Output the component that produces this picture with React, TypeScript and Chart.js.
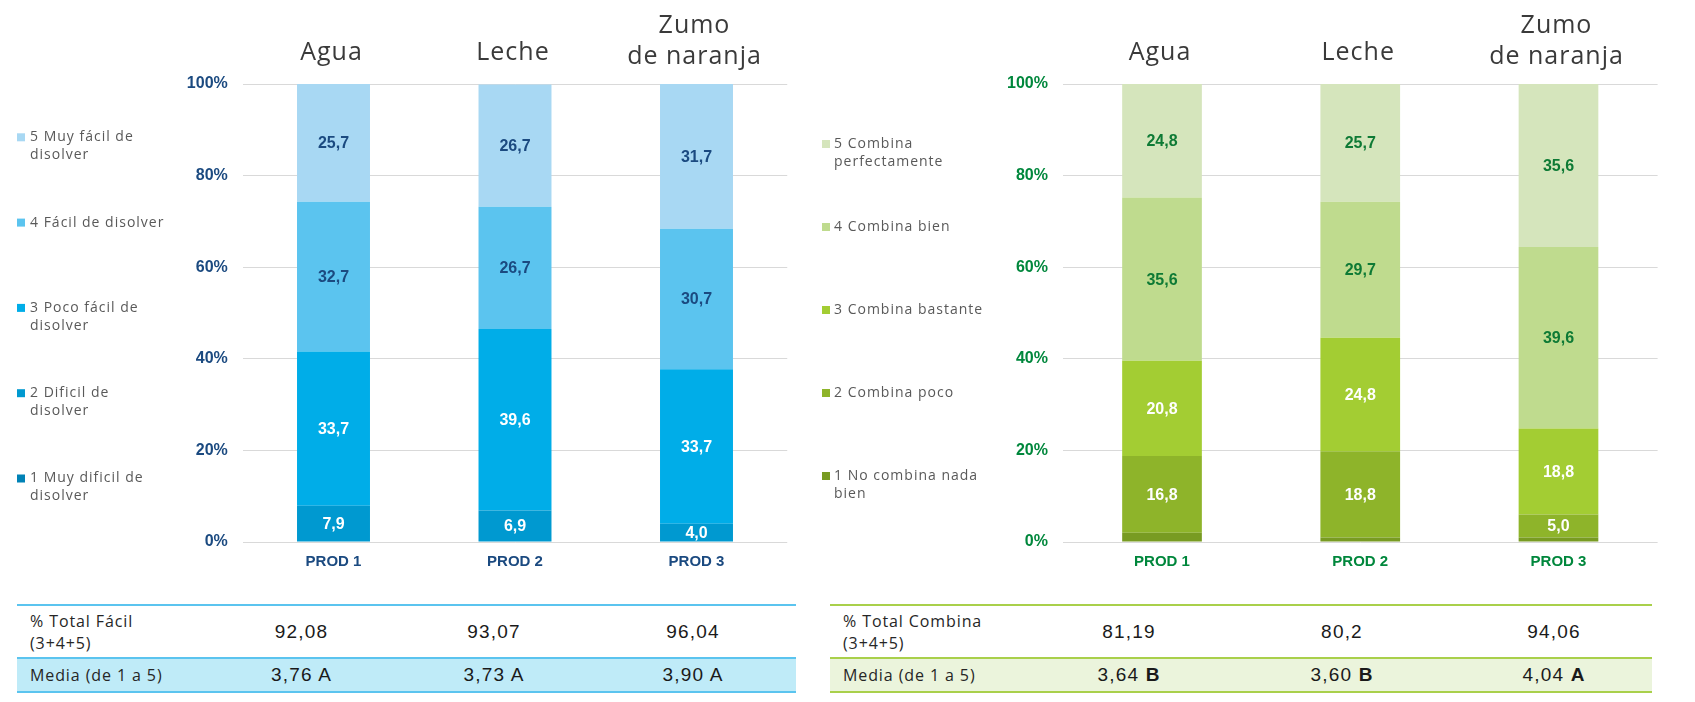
import React, { useEffect, useRef } from 'react';
import { Chart, registerables } from 'chart.js';

Chart.register(...registerables);

// ---------- DATA ----------
const products = ['PROD 1', 'PROD 2', 'PROD 3'];
const drinkTitles = [['Agua'], ['Leche'], ['Zumo', 'de naranja']];

// Disolución (left chart) – values in %
const disolverNames = ['1 Muy dificil de disolver', '2 Dificil de disolver', '3 Poco fácil de disolver', '4 Fácil de disolver', '5 Muy fácil de disolver'];
const disolverLegend = [['1 Muy dificil de', 'disolver'], ['2 Dificil de', 'disolver'], ['3 Poco fácil de', 'disolver'], ['4 Fácil de disolver'], ['5 Muy fácil de', 'disolver']];
const disolver1 = [0, 0, 0];
const disolver2 = [7.9, 6.9, 4.0];
const disolver3 = [33.7, 39.6, 33.7];
const disolver4 = [32.7, 26.7, 30.7];
const disolver5 = [25.7, 26.7, 31.7];

// Combinación (right chart) – values in %
const combinaNames = ['1 No combina nada bien', '2 Combina poco', '3 Combina bastante', '4 Combina bien', '5 Combina perfectamente'];
const combinaLegend = [['1 No combina nada', 'bien'], ['2 Combina poco'], ['3 Combina bastante'], ['4 Combina bien'], ['5 Combina', 'perfectamente']];
const combina1 = [2.0, 1.0, 1.0];
const combina2 = [16.8, 18.8, 5.0];
const combina3 = [20.8, 24.8, 18.8];
const combina4 = [35.6, 29.7, 39.6];
const combina5 = [24.8, 25.7, 35.6];

// Tables
const totalFacil = ['92,08', '93,07', '96,04'];
const mediaFacil = ['3,76', '3,73', '3,90'];
const mediaFacilGroup = ['A', 'A', 'A'];
const totalCombina = ['81,19', '80,2', '94,06'];
const mediaCombina = ['3,64', '3,60', '4,04'];
const mediaCombinaGroup = ['B', 'B', 'A'];

// ---------- STYLE ----------
const blueColors = ['#0082B6', '#0099D0', '#00ADE8', '#5BC4EF', '#A8D8F3'];
const blueLabelColors = ['#ffffff', '#ffffff', '#ffffff', '#1B4A80', '#1B4A80'];
const greenColors = ['#789B22', '#8EB42A', '#A3CD33', '#BFDB8E', '#D5E5BC'];
const greenLabelColors = ['#ffffff', '#ffffff', '#ffffff', '#0E7A35', '#0E7A35'];

const fmt = (v: number) => v.toFixed(1).replace('.', ',');

const titlesPlugin = {
  id: 'drinkTitles',
  afterDraw(chart: any, _a: any, opts: any) {
    const ctx = chart.ctx;
    const xs = chart.scales.x;
    ctx.save();
    ctx.font = '25px "Open Sans"';
    (ctx as any).letterSpacing = '1px';
    ctx.fillStyle = '#3A3A3A';
    ctx.textAlign = 'center';
    ctx.textBaseline = 'alphabetic';
    (opts.titles || []).forEach((lines: string[], i: number) => {
      const cx = xs.getPixelForValue(i) - 2;
      if (lines.length === 1) ctx.fillText(lines[0], cx, 60);
      else lines.forEach((ln, j) => ctx.fillText(ln, cx, 33 + 31 * j));
    });
    ctx.restore();
  },
};

const sideLegendPlugin = {
  id: 'sideLegend',
  afterDraw(chart: any, _a: any, opts: any) {
    const ctx = chart.ctx;
    ctx.save();
    ctx.font = '14px "Open Sans"';
    (ctx as any).letterSpacing = '1px';
    ctx.textBaseline = 'middle';
    ctx.textAlign = 'left';
    const n = chart.data.datasets.length;
    for (let k = 0; k < n; k++) {
      const di = n - 1 - k; // top item = last dataset
      const y = opts.y0 + opts.step * k;
      ctx.fillStyle = chart.data.datasets[di].backgroundColor;
      ctx.fillRect(opts.boxX, y - 4, 8, 8);
      ctx.fillStyle = '#595959';
      opts.lines[di].forEach((ln: string, j: number) => ctx.fillText(ln, opts.textX, y + j * 17.7));
    }
    ctx.restore();
  },
};

const barLabelsPlugin = {
  id: 'barLabels',
  afterDatasetsDraw(chart: any, _a: any, opts: any) {
    const ctx = chart.ctx;
    ctx.save();
    ctx.font = 'bold 16px "Liberation Sans"';
    ctx.textAlign = 'center';
    ctx.textBaseline = 'middle';
    chart.data.datasets.forEach((ds: any, di: number) => {
      const meta = chart.getDatasetMeta(di);
      meta.data.forEach((bar: any, i: number) => {
        const v = ds.data[i];
        if (v < 3) return;
        const p = bar.getProps(['x', 'y', 'base'], true);
        ctx.fillStyle = opts.colors[di];
        ctx.fillText(fmt(v), p.x, (p.y + p.base) / 2 + 1);
      });
    });
    ctx.restore();
  },
};

function makeConfig(o: any) {
  return {
    type: 'bar',
    data: {
      labels: products,
      datasets: o.series.map((d: number[], i: number) => ({
        label: o.names[i],
        data: d,
        backgroundColor: o.colors[i],
        borderWidth: 0,
        barPercentage: 0.402,
        categoryPercentage: 1,
      })),
    },
    options: {
      responsive: false,
      animation: false,
      layout: { padding: { left: 0, top: 84, right: o.padRight, bottom: 18 } },
      scales: {
        x: {
          stacked: true,
          grid: { display: false, drawTicks: false },
          border: { display: false },
          ticks: {
            color: o.axisColor,
            font: { family: 'Liberation Sans', size: 15, weight: 'bold' },
            padding: 11,
          },
          afterFit: (s: any) => { s.height = 40; },
        },
        y: {
          stacked: true,
          min: 0,
          max: 100,
          border: { display: false },
          grid: { color: '#D9D9D9', drawTicks: false, lineWidth: 1 },
          ticks: {
            stepSize: 20,
            color: o.axisColor,
            font: { family: 'Liberation Sans', size: 16, weight: 'bold' },
            padding: o.tickPad,
            callback: (v: any) => v + '%',
          },
          afterFit: (s: any) => { s.width = o.axisWidth; },
        },
      },
      plugins: {
        legend: { display: false },
        tooltip: { enabled: false },
        drinkTitles: { titles: drinkTitles },
        sideLegend: o.legend,
        barLabels: { colors: o.labelColors },
      },
    },
    plugins: [titlesPlugin, sideLegendPlugin, barLabelsPlugin],
  };
}

function BarChart(props: { cfg: any; width: number; height: number; left: number }) {
  const ref = useRef<HTMLCanvasElement>(null);
  useEffect(() => {
    const chart = new Chart(ref.current as HTMLCanvasElement, props.cfg);
    return () => chart.destroy();
  }, []);
  return (
    <canvas
      ref={ref}
      width={props.width}
      height={props.height}
      style={{ position: 'absolute', left: props.left, top: 0, width: props.width, height: props.height }}
    />
  );
}

function SummaryTable(props: any) {
  const { left, widths, lineColor, bg, label1, label2, totals, medias, groups, boldGroup } = props;
  const cell = (w: number, content: any, align: string = 'center', extra: any = {}) => (
    <div style={{ width: w, textAlign: align as any, display: 'flex', alignItems: 'center', justifyContent: align === 'left' ? 'flex-start' : 'center', ...extra }}>{content}</div>
  );
  const valFont = { fontFamily: '"Liberation Sans", Arial, sans-serif', fontSize: 19, letterSpacing: '1.2px', color: '#1A1A1A' };
  const labFont = { fontFamily: '"Open Sans", sans-serif', fontSize: 16, letterSpacing: '0.9px', color: '#262626', lineHeight: '22px' };
  return (
    <div style={{ position: 'absolute', left, top: 604, width: widths.reduce((a: number, b: number) => a + b, 0), borderTop: `2px solid ${lineColor}` }}>
      <div style={{ display: 'flex', height: 51 }}>
        {cell(widths[0], <div style={{ ...labFont, paddingLeft: 13 }}>{label1[0]}<br />{label1[1]}</div>, 'left')}
        {totals.map((t: string, i: number) => cell(widths[i + 1], <span style={valFont}>{t}</span>))}
      </div>
      <div style={{ display: 'flex', height: 32, background: bg, borderTop: `2px solid ${lineColor}`, borderBottom: `2px solid ${lineColor}` }}>
        {cell(widths[0], <div style={{ ...labFont, paddingLeft: 13 }}>{label2}</div>, 'left')}
        {medias.map((m: string, i: number) =>
          cell(widths[i + 1], <span style={valFont}>{m} <span style={{ fontWeight: boldGroup ? 'bold' : 'normal' }}>{groups[i]}</span></span>)
        )}
      </div>
    </div>
  );
}

export default function App() {
  useEffect(() => {
    document.body.style.margin = '0';
    document.body.style.background = '#ffffff';
  }, []);

  const leftCfg = makeConfig({
    series: [disolver1, disolver2, disolver3, disolver4, disolver5],
    names: disolverNames,
    colors: blueColors,
    labelColors: blueLabelColors,
    axisColor: '#1B4A80',
    axisWidth: 242.75,
    tickPad: 15,
    padRight: 12.75,
    legend: { lines: disolverLegend, boxX: 17, textX: 30, y0: 137.3, step: 85.3 },
  });
  const rightCfg = makeConfig({
    series: [combina1, combina2, combina3, combina4, combina5],
    names: combinaNames,
    colors: greenColors,
    labelColors: greenLabelColors,
    axisColor: '#00873C',
    axisWidth: 262.9,
    tickPad: 15,
    padRight: 37.4,
    legend: { lines: combinaLegend, boxX: 22, textX: 34, y0: 144, step: 83 },
  });

  return (
    <div style={{ position: 'relative', width: 1695, height: 702, background: '#fff', overflow: 'hidden' }}>
      <BarChart cfg={leftCfg} width={800} height={600} left={0} />
      <BarChart cfg={rightCfg} width={895} height={600} left={800} />
      <SummaryTable
        left={17}
        widths={[188, 193, 192, 206]}
        lineColor="#5BC4EF"
        bg="#BFEBF8"
        label1={['% Total Fácil', '(3+4+5)']}
        label2="Media (de 1 a 5)"
        totals={totalFacil}
        medias={mediaFacil}
        groups={mediaFacilGroup}
        boldGroup={false}
      />
      <SummaryTable
        left={830}
        widths={[200, 198, 228, 196]}
        lineColor="#A9D04B"
        bg="#EBF4DC"
        label1={['% Total Combina', '(3+4+5)']}
        label2="Media (de 1 a 5)"
        totals={totalCombina}
        medias={mediaCombina}
        groups={mediaCombinaGroup}
        boldGroup={true}
      />
    </div>
  );
}
